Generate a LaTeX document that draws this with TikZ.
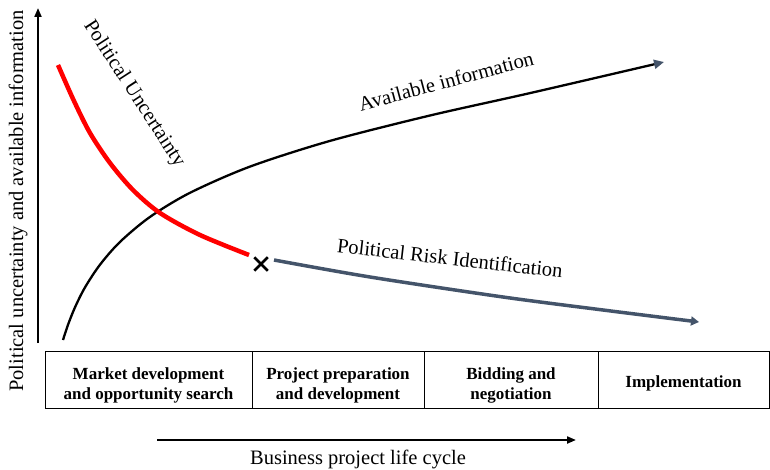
\documentclass[tikz,border=0pt]{standalone}
\usepackage{fontspec}
\setmainfont{Liberation Serif}
\usepackage{tikz}
\usetikzlibrary{positioning, arrows.meta, shapes.misc}
\usepackage{xcolor}
\definecolor{riskblue}{HTML}{44546A}

\tikzset{
	stage/.style={draw, line width=0.9pt, inner sep=0pt, outer sep=0pt,
		minimum height=57pt},
	stage text/.style={align=center, yshift=-6pt, inner sep=0pt,
		font=\bfseries\fontsize{17}{19.5}\selectfont},
	label text/.style={font=\fontsize{20.5}{24}\selectfont, inner sep=0pt},
	axis arrow/.style={line width=2pt, -{Triangle[length=9pt, width=7pt]}}
}

\begin{document}
\begin{tikzpicture}[x=1pt, y=-1pt, smooth]
	\useasboundingbox (0,0) rectangle (770,470);
	% Axes
	\coordinate (origin) at (38,343);
	\coordinate (ytop) at (38,8);
	\draw[axis arrow] (origin) -- (ytop);
	\node[label text, rotate=90] (ylabel) at (18,201) {Political uncertainty and available information};
	\coordinate (cycle start) at (157,440);
	\coordinate (cycle end) at (576,440);
	\draw[axis arrow] (cycle start) -- (cycle end);
	\node[label text] (xlabel) at (358,459) {Business project life cycle};
	% Project stages
	\node[stage, minimum width=207pt, label={[stage text]center:Market development\\and opportunity search}] (market) at (148.5,379.5) {};
	\node[stage, minimum width=172pt, right=0pt of market, label={[stage text]center:Project preparation\\and development}] (project) {};
	\node[stage, minimum width=174pt, right=0pt of project, label={[stage text]center:Bidding and\\negotiation}] (bidding) {};
	\node[stage, minimum width=171pt, right=0pt of bidding, label={[stage text, yshift=2pt]center:Implementation}] (implementation) {};
	% Available information
	\draw[line width=2.3pt, -{Triangle[length=10pt, width=9pt, color=riskblue]}] plot coordinates {(63,340) (68,324.8) (75,307.3) (85,287.4) (100,264.7) (120,241.9) (150,216.9) (190,192.8) (250,166.6) (330,140.9) (430,115.5) (530,93.1) (664,62)};
	\node[label text, rotate=15] (info) at (446,81) {Available information};
	% Political uncertainty
	\draw[red, line width=4.5pt] plot coordinates {(58,65) (74,101) (90,133) (110,163) (133,190) (160,213) (200,235) (249,255)};
	\node[label text, rotate=-57] (uncertainty) at (134,94) {Political Uncertainty};
	% Political risk identification
	\node[cross out, draw, line width=2.5pt, minimum size=11pt, inner sep=0pt] (cross) at (261,264) {};
	\draw[riskblue, line width=3.5pt, -{Triangle[length=8pt, width=9pt]}] plot coordinates {(274,260) (370,277) (503,297) (603,310) (699,322)};
	\node[label text, rotate=-6.5] (risk) at (450,258) {Political Risk Identification};
\end{tikzpicture}
\end{document}
